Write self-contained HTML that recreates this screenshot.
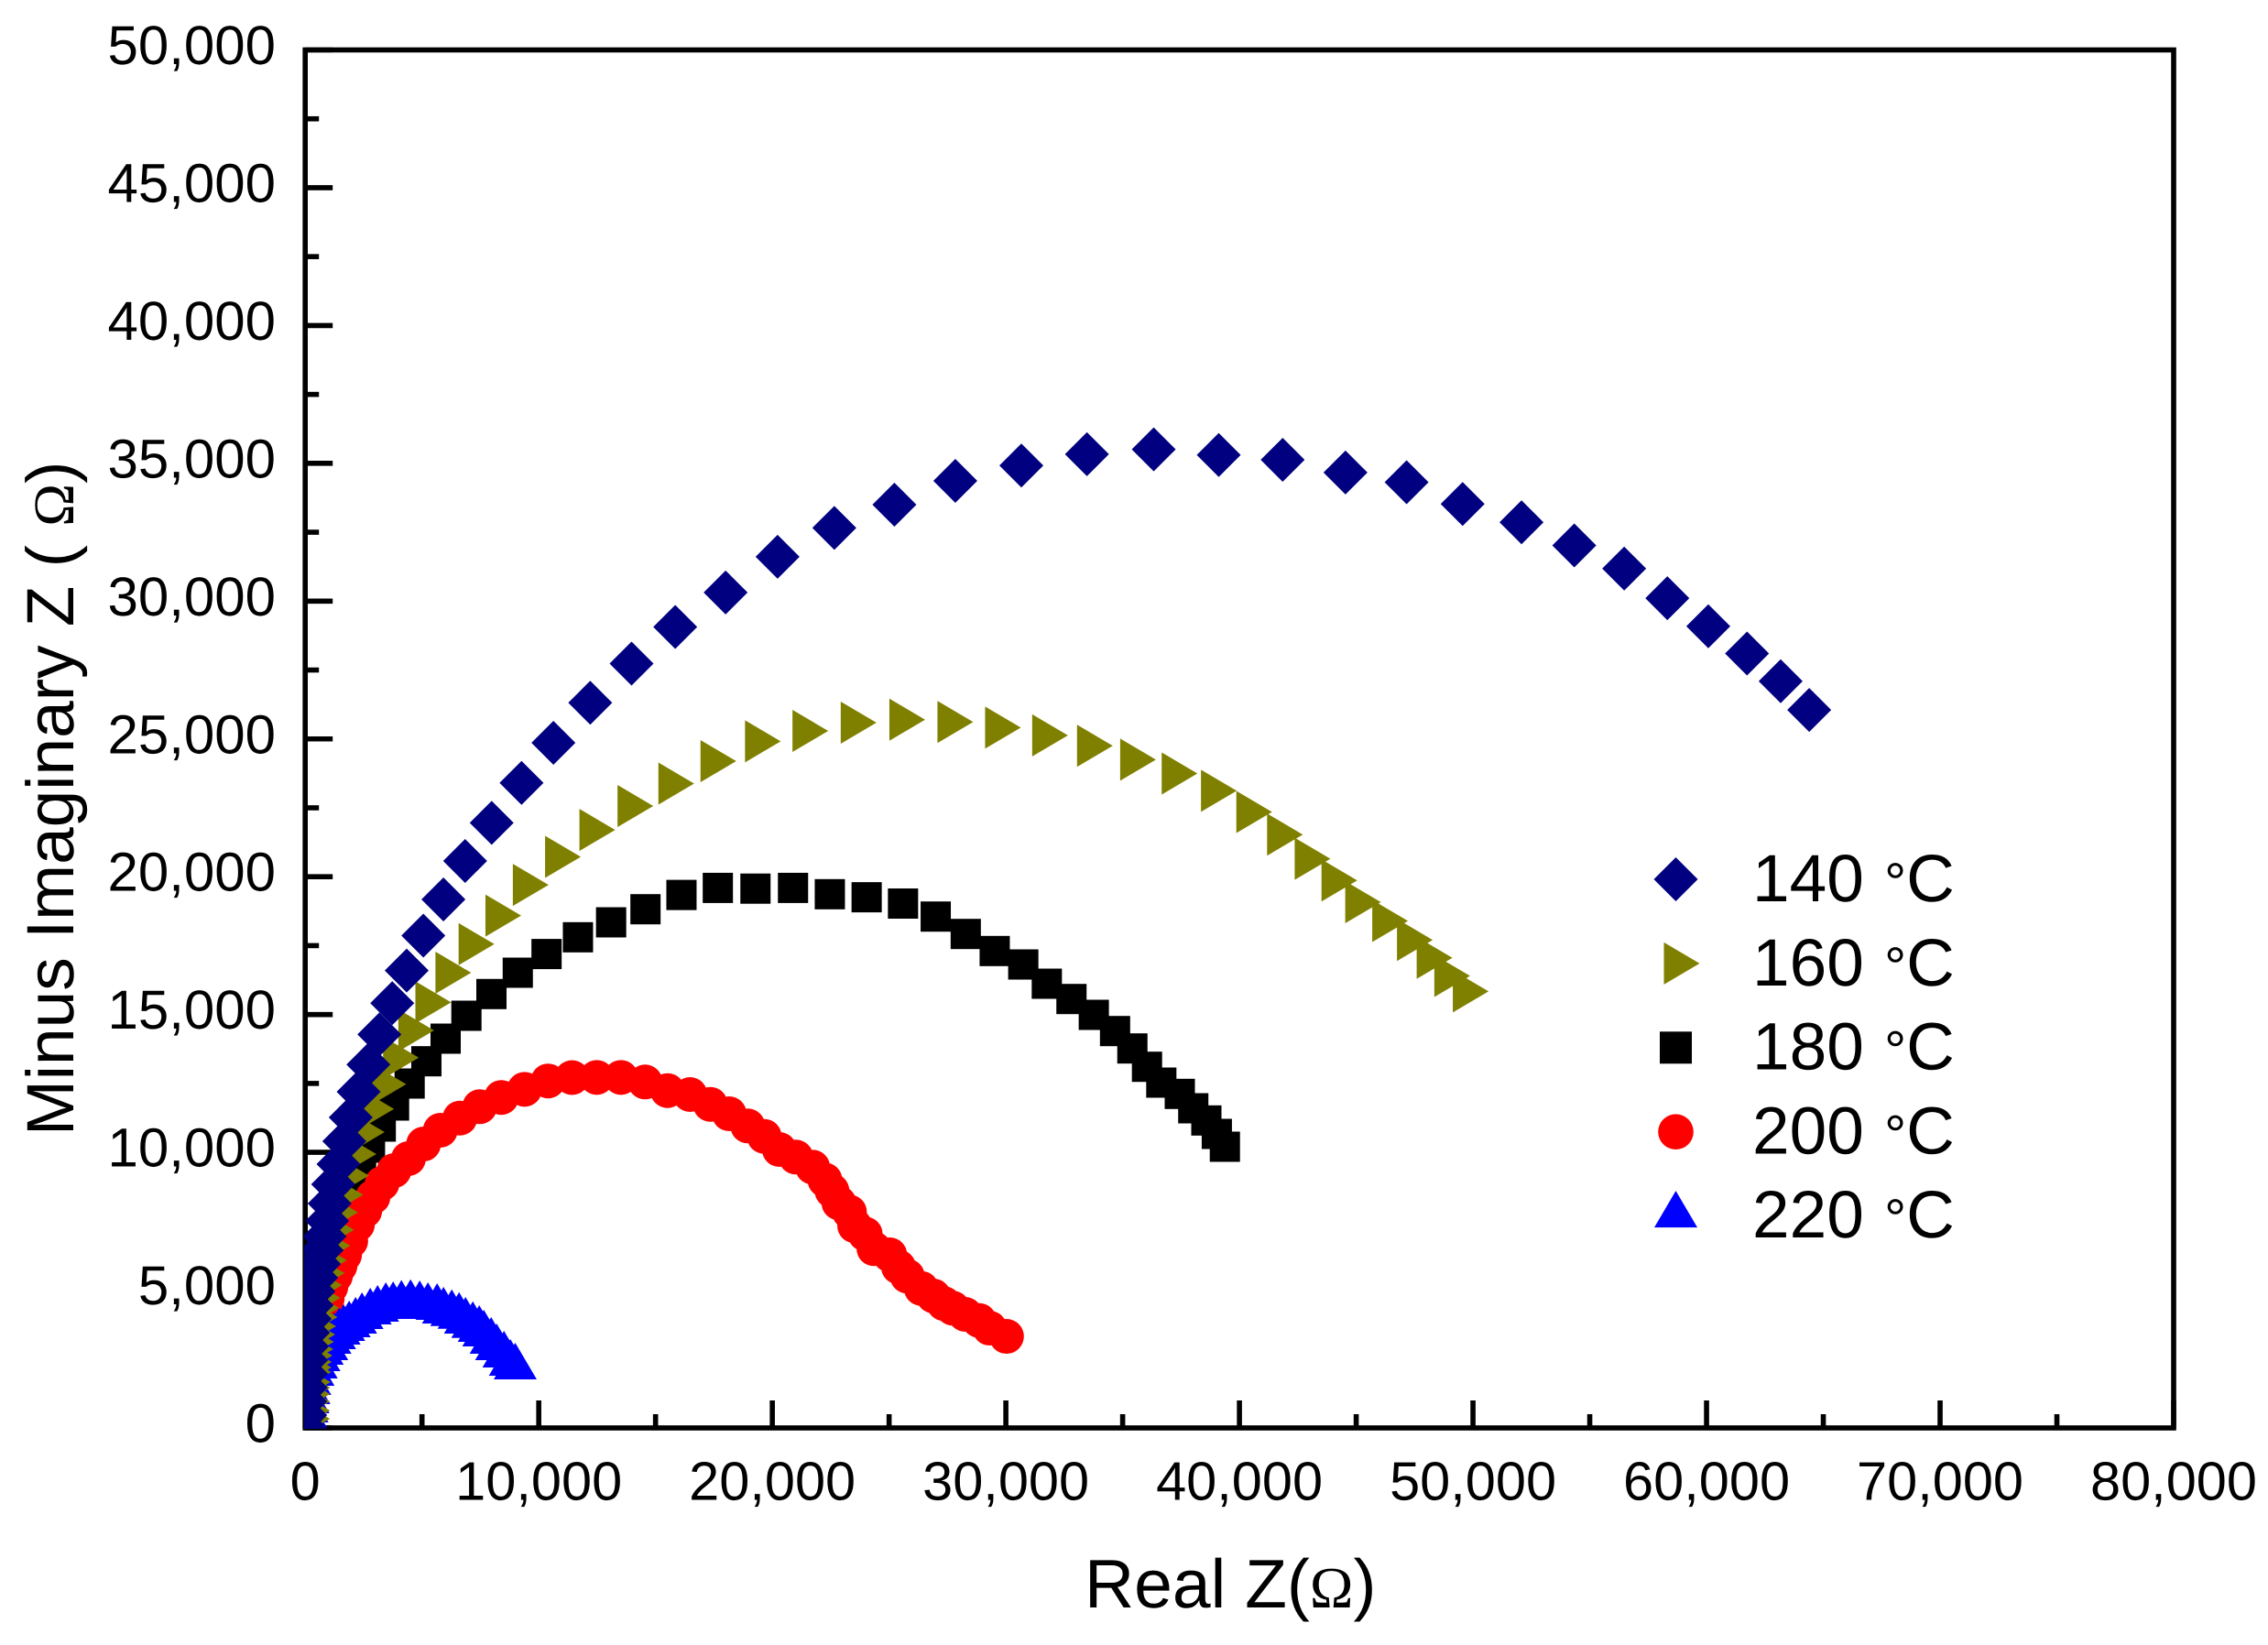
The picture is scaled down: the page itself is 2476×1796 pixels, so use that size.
<!DOCTYPE html>
<html lang="en">
<head>
<meta charset="utf-8">
<title>Nyquist plot of impedance at five temperatures</title>
<style>
html,body{margin:0;padding:0;background:#fff;}
svg{display:block;}
text{font-family:"Liberation Sans",sans-serif;fill:#000;text-rendering:geometricPrecision;}
.serif{font-family:"Liberation Serif",serif;}
</style>
</head>
<body>
<svg id="chart" xmlns="http://www.w3.org/2000/svg" width="2476" height="1796" viewBox="0 0 2476 1796">
  <rect x="0" y="0" width="2476" height="1796" fill="#fff"/>
  <defs>
    <clipPath id="plot-clip"><rect x="332" y="40" width="2050" height="1520"/></clipPath>
  </defs>
  <g id="axes" stroke="#000" stroke-width="5.6" fill="none">
    <rect x="333.2" y="54.5" width="2039.8" height="1504.5" stroke-linejoin="miter"/>
  </g>
  <g id="ticks"></g>
  <g id="tick-labels"></g>
  <g id="series" clip-path="url(#plot-clip)"></g>
  <text x="1184" y="1755" font-size="75">Real Z(<tspan class="serif" font-size="64">Ω</tspan>)</text>
  <text transform="translate(80,1240) rotate(-90)" font-size="73">Minus Imaginary Z ( <tspan class="serif" font-size="63">Ω</tspan>)</text>
  <g id="legend"></g>
</svg>
<script>
const xTickValues = [0, 10000, 20000, 30000, 40000, 50000, 60000, 70000, 80000];
const yTickValues = [0, 5000, 10000, 15000, 20000, 25000, 30000, 35000, 40000, 45000, 50000];
const xMinorValues = [5000, 15000, 25000, 35000, 45000, 55000, 65000, 75000];
const yMinorValues = [2500, 7500, 12500, 17500, 22500, 27500, 32500, 37500, 42500, 47500];

const legendLabels = ["140", "160", "180", "200", "220"];

const real140 = [0,0,0,20,39,39,78,118,196,275,353,471,588,706,824,941,1047,1196,1424,1675,1949,2286,2706,3176,3726,4345,5059,5918,6847,7984,9263,10628,12204,13973,15843,18000,20224,22655,25228,27836,30663,33471,36330,39114,41851,44541,47157,49557,52078,54337,56475,58322,60075,61733,63173,64396];
const imag140 = [0,465,964,1462,1961,2459,2958,3456,3955,4453,4952,5450,5949,6447,6946,7511,8142,8840,9571,10402,11266,12197,13184,14280,15414,16597,17863,19175,20571,21954,23406,24858,26311,27733,29062,30312,31611,32658,33499,34363,34921,35330,35506,35304,35127,34665,34313,33526,32860,32020,31180,30106,29089,28099,27095,26052];

const real160 = [39,39,39,39,51,67,90,106,118,145,184,208,263,302,365,431,482,561,667,765,914,1071,1243,1463,1714,2028,2381,2785,3306,3843,4498,5228,6086,7078,8227,9400,10780,12251,13882,15632,17435,19341,21373,23439,25522,27581,29620,31636,33557,35404,37181,38863,40377,41694,42875,44024,45039,46196,47255,48099,48855,49647];
const imag160 = [332,631,964,1230,1462,1662,2027,2193,2393,2625,2858,3124,3390,3689,4021,4354,4719,5184,5616,6082,6613,7188,7820,8464,9156,9937,10734,11575,12472,13436,14423,15443,16517,17554,18591,19704,20721,21698,22565,23380,24194,24912,25290,25589,25699,25616,25413,25128,24749,24247,23745,23120,22349,21528,20650,19867,19076,18394,17707,17059,16400,15839];

const real180 = [0,20,39,78,118,196,314,431,549,706,863,1059,1255,1490,1765,2078,2392,2773,3235,3804,4471,5188,6012,6902,7973,9102,10333,11678,13098,14569,16110,17667,19278,20886,22463,24039,25596,26996,28282,29522,30745,31753,32808,33765,34675,35416,36043,36655,37447,38024,38584,39032,39377];
const imag180 = [631,1130,1628,2127,2625,3124,3622,4121,4619,5118,5616,6181,6780,7444,8076,8740,9438,10169,10934,11698,12496,13304,14124,14955,15743,16517,17195,17803,18345,18820,19338,19594,19568,19594,19365,19255,19026,18554,17923,17304,16816,16118,15563,14988,14400,13769,13104,12529,12120,11598,11156,10668,10203];

const real200 = [39,39,78,118,196,275,392,510,627,784,941,1098,1294,1490,1686,1949,2235,2549,2902,3294,3804,4420,5067,5784,6624,7471,8396,9392,10400,11424,12483,13518,14553,15514,16475,17345,18153,18949,19655,20302,21008,21726,22251,22553,22851,23302,23526,23977,24353,25028,25404,25780,26380,26902,27353,27729,28255,28855,29306,30027];
const imag200 = [133,465,964,1462,1961,2459,2958,3456,3955,4287,4686,5118,5517,5882,6281,6780,7378,7876,8375,8873,9338,9771,10302,10801,11243,11655,11991,12286,12589,12712,12718,12718,12552,12240,12097,11741,11399,10957,10578,10103,9827,9461,8996,8607,8165,7833,7335,7035,6504,6281,5839,5507,5061,4786,4510,4344,4121,3898,3622,3323];

const real220 = [0,0,78,118,157,196,333,471,588,725,922,1059,1255,1451,1647,1882,2157,2431,2784,3098,3451,3765,4118,4510,4902,5255,5647,5922,6275,6588,6863,7176,7451,7647,7961,8196,8510,8784,8992];
const imag220 = [233,465,631,964,1296,1628,1961,2227,2492,2725,2891,3124,3290,3456,3589,3722,3855,4021,4187,4287,4387,4420,4470,4496,4453,4387,4354,4221,4131,4031,3855,3699,3556,3390,3124,2891,2625,2326,2193];

const SVGNS = "http://www.w3.org/2000/svg";
const xMax = 80000, yMax = 50000;
const plotLeft = 333.2, plotRight = 2373, plotTop = 54.5, plotBottom = 1559;
function xScale(v){ return plotLeft + v / xMax * (plotRight - plotLeft); }
function yScale(v){ return plotBottom - v / yMax * (plotBottom - plotTop); }
function formatTick(v){ return v === 0 ? "0" : String(v).replace(/\B(?=(\d{3})+$)/g, ","); }

function drawMarker(parent, kind, cx, cy, fill, legendSize){
  let el;
  if (kind === "diamond") {
    el = document.createElementNS(SVGNS, "polygon");
    el.setAttribute("points", [[cx-24,cy],[cx,cy-24],[cx+24,cy],[cx,cy+24]].join(" "));
  } else if (kind === "tri-right") {
    el = document.createElementNS(SVGNS, "polygon");
    el.setAttribute("points", [[cx-13,cy-23],[cx+26,cy],[cx-13,cy+23]].join(" "));
  } else if (kind === "square") {
    const h = legendSize ? 17.5 : 16.5;
    el = document.createElementNS(SVGNS, "rect");
    el.setAttribute("x", cx-h); el.setAttribute("y", cy-h);
    el.setAttribute("width", 2*h); el.setAttribute("height", 2*h);
  } else if (kind === "circle") {
    el = document.createElementNS(SVGNS, "circle");
    el.setAttribute("cx", cx); el.setAttribute("cy", cy);
    el.setAttribute("r", legendSize ? 19.3 : 19);
  } else {
    el = document.createElementNS(SVGNS, "polygon");
    el.setAttribute("points", [[cx-23.5,cy+13],[cx,cy-27],[cx+23.5,cy+13]].join(" "));
  }
  el.setAttribute("fill", fill);
  parent.appendChild(el);
  return el;
}

const ticksGroup = document.getElementById("ticks");
function addTick(x1, y1, x2, y2, name){
  const l = document.createElementNS(SVGNS, "line");
  l.setAttribute("x1", x1); l.setAttribute("y1", y1);
  l.setAttribute("x2", x2); l.setAttribute("y2", y2);
  l.setAttribute("stroke", "#000");
  l.setAttribute("stroke-width", "5.6");
  
  
  ticksGroup.appendChild(l);
}
xTickValues.forEach(function(v){ addTick(xScale(v), plotBottom, xScale(v), plotBottom - 30, "x-major-tick"); });
xMinorValues.forEach(function(v){ addTick(xScale(v), plotBottom, xScale(v), plotBottom - 15, "x-minor-tick"); });
yTickValues.forEach(function(v){ addTick(plotLeft, yScale(v), plotLeft + 30, yScale(v), "y-major-tick"); });
yMinorValues.forEach(function(v){ addTick(plotLeft, yScale(v), plotLeft + 15, yScale(v), "y-minor-tick"); });

const labelsGroup = document.getElementById("tick-labels");
xTickValues.forEach(function(v){
  const t = document.createElementNS(SVGNS, "text");
  t.setAttribute("x", xScale(v));
  t.setAttribute("y", 1637.5);
  t.setAttribute("font-size", "59.5");
  t.setAttribute("text-anchor", "middle");
  
  
  t.textContent = formatTick(v);
  labelsGroup.appendChild(t);
});
yTickValues.forEach(function(v){
  const t = document.createElementNS(SVGNS, "text");
  t.setAttribute("x", 301);
  t.setAttribute("y", yScale(v) + 15.5);
  t.setAttribute("font-size", "60");
  t.setAttribute("text-anchor", "end");
  
  
  t.textContent = formatTick(v);
  labelsGroup.appendChild(t);
});

const seriesGroup = document.getElementById("series");
function drawSeries(name, kind, fill, xs, ys){
  const g = document.createElementNS(SVGNS, "g");
  
  
  xs.forEach(function(v, i){
    const m = drawMarker(g, kind, xScale(v), yScale(ys[i]), fill, false);
    
    
  });
  seriesGroup.appendChild(g);
}
drawSeries("series-180c", "square", "#000000", real180, imag180);
drawSeries("series-200c", "circle", "#ff0000", real200, imag200);
drawSeries("series-220c", "tri-up", "#0000ff", real220, imag220);
drawSeries("series-160c", "tri-right", "#808000", real160, imag160);
drawSeries("series-140c", "diamond", "#000080", real140, imag140);

const legendGroup = document.getElementById("legend");
const legendKinds = ["diamond", "tri-right", "square", "circle", "tri-up"];
const legendFills = ["#000080", "#808000", "#000000", "#ff0000", "#0000ff"];
legendLabels.forEach(function(label, i){
  const g = document.createElementNS(SVGNS, "g");
  
  
  const rowY = 960 + i * 91.9;
  const m = drawMarker(g, legendKinds[i], 1829.5, i === 4 ? rowY - 0.5 : rowY, legendFills[i], true);
  
  
  const t = document.createElementNS(SVGNS, "text");
  t.setAttribute("x", 1913);
  t.setAttribute("y", 984 + i * 91.8);
  t.setAttribute("font-size", "73");
  
  
  t.textContent = label + " ";
  const d = document.createElementNS(SVGNS, "tspan");
  d.setAttribute("font-size", "60");
  d.setAttribute("dx", "2");
  d.textContent = "°";
  t.appendChild(d);
  const c = document.createElementNS(SVGNS, "tspan");
  c.textContent = "C";
  t.appendChild(c);
  g.appendChild(t);
  legendGroup.appendChild(g);
});
</script>
</body>
</html>
